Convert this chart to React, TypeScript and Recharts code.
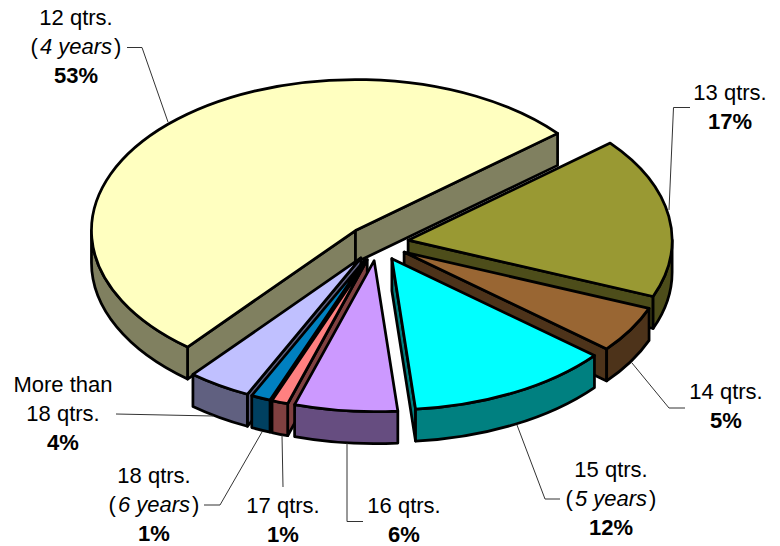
import { PieChart, Pie } from 'recharts'

const categories = ['12 qtrs.', '13 qtrs.', '14 qtrs.', '15 qtrs.', '16 qtrs.', '17 qtrs.', '18 qtrs.', 'More than 18 qtrs.']
const subLabels = ['4 years', '', '', '5 years', '', '', '6 years', '']
const shares = [52.9, 17.2, 5.0, 12.49, 6.3, 1.0, 1.2, 3.9]
const topColors = ['#FFFFC0', '#999933', '#996633', '#00FFFF', '#CC99FF', '#FF8080', '#0080C0', '#C0C0FF']
const wallColors = ['#808060', '#4D4D1A', '#4D331A', '#008080', '#664D80', '#804040', '#004060', '#606080']

const tableData = categories.map((name, i) => ({
  name,
  value: shares[i],
  fill: topColors[i],
  wall: wallColors[i],
}))

// same slices walked the other way round, so the front ones paint from the left inwards
const reversedData = [...tableData].reverse()

// where each callout sits: text centre, baseline of first line, and the leader polyline
const callouts = [
  { x: 76, y: 25, leader: '127,47.5 142,47.5 168,122' },
  { x: 730, y: 100, leader: '690,107.5 673.5,107.5 669,210' },
  { x: 726, y: 399, leader: '685,408 669,408 632,363' },
  { x: 611, y: 477, leader: '560,499 545,499 517,425' },
  { x: 404, y: 513, leader: '363,521.5 347,521.5 347,443' },
  { x: 283, y: 513, leader: '283,487 282,435' },
  { x: 154, y: 483, leader: '204,505 220,505 262,432' },
  { x: 63, y: 392, leader: '116,414 213,416' },
]

const FONT = '"Liberation Sans", Arial, sans-serif'
const FONT_SIZE = 22
const LINE = 29.2
const TILT = 151 / 264
const DEPTH = 32
const EXPLODE = 31
const RAD = Math.PI / 180

// sector drawn as a tilted slab, pulled out along its own bisector
function SliceShape(props: any) {
  const { cx, cy, outerRadius, fill, payload } = props
  const startAngle = Math.max(props.startAngle, props.endAngle)
  const endAngle = Math.min(props.startAngle, props.endAngle)
  const rx = outerRadius
  const ry = outerRadius * TILT
  const mid = ((startAngle + endAngle) / 2) * RAD
  const ax = cx + EXPLODE * Math.cos(mid)
  const ay = cy - EXPLODE * TILT * Math.sin(mid)
  const px = (deg: number) => ax + rx * Math.cos(deg * RAD)
  const py = (deg: number) => ay - ry * Math.sin(deg * RAD)
  const wall = payload?.wall ?? props.wall

  const radialWall = (deg: number) =>
    `M${ax},${ay} L${px(deg)},${py(deg)} L${px(deg)},${py(deg) + DEPTH} L${ax},${ay + DEPTH} Z`

  const walls: string[] = []
  if (Math.cos(startAngle * RAD) < 0) walls.push(radialWall(startAngle))
  if (Math.cos(endAngle * RAD) > 0) walls.push(radialWall(endAngle))

  // rim is only seen on the front half of the ellipse
  for (const [lo, hi] of [[180, 360], [-180, 0]]) {
    const a1 = Math.min(startAngle, hi)
    const a2 = Math.max(endAngle, lo)
    if (a1 <= a2) continue
    const large = a1 - a2 > 180 ? 1 : 0
    walls.push(
      `M${px(a1)},${py(a1)} A${rx},${ry} 0 ${large} 1 ${px(a2)},${py(a2)} ` +
        `L${px(a2)},${py(a2) + DEPTH} A${rx},${ry} 0 ${large} 0 ${px(a1)},${py(a1) + DEPTH} Z`,
    )
  }

  const large = startAngle - endAngle > 180 ? 1 : 0
  const top = `M${ax},${ay} L${px(startAngle)},${py(startAngle)} A${rx},${ry} 0 ${large} 1 ${px(endAngle)},${py(endAngle)} Z`

  return (
    <g stroke="#000" strokeWidth={2.75} strokeLinejoin="round">
      {walls.map((d, i) => (
        <path key={i} d={d} fill={wall} />
      ))}
      <path d={top} fill={fill} />
    </g>
  )
}

// back slices come from the clockwise pie, the four front-left ones from the reversed pie
const FirstFour = (props: any) => (props.index < 4 ? <SliceShape {...props} /> : <g />)

function SliceLabel(props: any) {
  const i = props.index
  const c = callouts[i]
  const name = categories[i]
  const sub = subLabels[i]
  const lines = name.startsWith('More') ? ['More than', '18 qtrs.'] : [name]
  const textProps = { x: c.x, textAnchor: 'middle' as const, fontFamily: FONT, fontSize: FONT_SIZE, fill: '#000', stroke: 'none' }
  const pctRow = lines.length + (sub ? 1 : 0)
  return (
    <g>
      <polyline points={c.leader} fill="none" stroke="#333" strokeWidth={1} />
      {lines.map((l, n) => (
        <text key={n} y={c.y + n * LINE} {...textProps}>{l}</text>
      ))}
      {sub ? (
        <text y={c.y + LINE} {...textProps}>
          (<tspan fontStyle="italic" dx={2}>{sub}</tspan><tspan dx={2}>)</tspan>
        </text>
      ) : null}
      <text y={c.y + pctRow * LINE} {...textProps} fontWeight="bold">{Math.round(shares[i])}%</text>
    </g>
  )
}

export default function App() {
  return (
    <div style={{ position: 'absolute', left: 0, top: 0, width: 780, height: 546, background: '#fff' }}>
      <PieChart width={780} height={546} margin={{ top: 0, right: 0, bottom: 0, left: 0 }}>
        <Pie
          data={tableData}
          dataKey="value"
          nameKey="name"
          cx={377.5}
          cy={243}
          innerRadius={0}
          outerRadius={264}
          startAngle={230.5}
          endAngle={-129.5}
          paddingAngle={0}
          stroke="none"
          shape={FirstFour}
          label={SliceLabel}
          labelLine={false}
          isAnimationActive={false}
        />
        <Pie
          data={reversedData}
          dataKey="value"
          nameKey="name"
          cx={377.5}
          cy={243}
          innerRadius={0}
          outerRadius={264}
          startAngle={230.5}
          endAngle={590.5}
          paddingAngle={0}
          stroke="none"
          shape={FirstFour}
          legendType="none"
          isAnimationActive={false}
        />
      </PieChart>
    </div>
  )
}
